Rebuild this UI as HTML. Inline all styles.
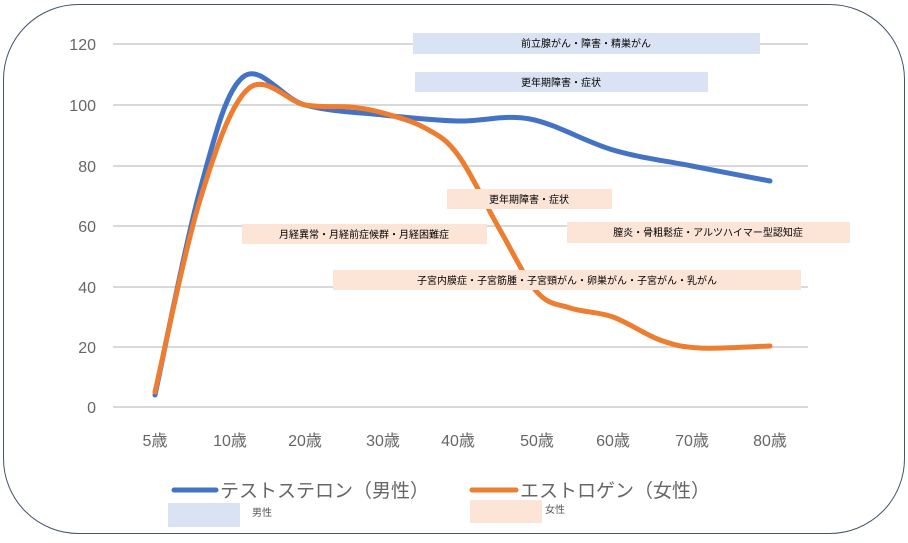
<!DOCTYPE html>
<html><head><meta charset="utf-8"><style>
body{margin:0;background:#fff;}
svg text{font-family:"Liberation Sans","Noto Sans CJK JP",sans-serif;}
</style></head><body>
<svg id="s" width="908" height="538" xmlns="http://www.w3.org/2000/svg">
<rect x="3.5" y="4.5" width="901" height="529" rx="75" ry="75" fill="#fff" stroke="#44546A" stroke-width="1"/>
<g stroke="#d9d9d9" stroke-width="2">
<line x1="113" y1="44" x2="808" y2="44"/><line x1="113" y1="105" x2="808" y2="105"/>
<line x1="113" y1="166" x2="808" y2="166"/><line x1="113" y1="226" x2="808" y2="226"/>
<line x1="113" y1="287" x2="808" y2="287"/><line x1="113" y1="347" x2="808" y2="347"/>
<line x1="113" y1="407" x2="808" y2="407"/>
</g>
<g fill="#666" font-size="16" text-anchor="end">
<text x="96" y="50">120</text><text x="96" y="111">100</text><text x="96" y="172">80</text>
<text x="96" y="232">60</text><text x="96" y="293">40</text><text x="96" y="353">20</text><text x="96" y="413">0</text>
</g>
<g fill="#666" font-size="16" text-anchor="middle">
<text x="155" y="446">5歳</text><text x="230" y="446">10歳</text><text x="305" y="446">20歳</text>
<text x="383" y="446">30歳</text><text x="458" y="446">40歳</text><text x="537" y="446">50歳</text>
<text x="613" y="446">60歳</text><text x="692" y="446">70歳</text><text x="770" y="446">80歳</text>
</g>
<path id="b" fill="none" stroke="#4472C4" stroke-width="5" stroke-linecap="round"/>
<path id="o" fill="none" stroke="#ED7D31" stroke-width="5" stroke-linecap="round"/>
<g font-size="10" fill="#000" text-anchor="middle">
<rect x="413" y="33" width="347" height="21" fill="#DAE3F3"/><text x="586" y="47">前立腺がん・障害・精巣がん</text>
<rect x="415" y="72" width="293" height="20" fill="#DAE3F3"/><text x="561" y="86">更年期障害・症状</text>
<rect x="447" y="189" width="165" height="20" fill="#FCE4D6"/><text x="529" y="203">更年期障害・症状</text>
<rect x="242" y="224" width="245" height="20" fill="#FCE4D6"/><text x="364" y="238">月経異常・月経前症候群・月経困難症</text>
<rect x="567" y="222" width="283" height="21" fill="#FCE4D6"/><text x="708" y="236">膣炎・骨粗鬆症・アルツハイマー型認知症</text>
<rect x="333" y="270" width="468" height="20" fill="#FCE4D6"/><text x="567" y="284">子宮内膜症・子宮筋腫・子宮頸がん・卵巣がん・子宮がん・乳がん</text>
</g>
<line x1="174" y1="490" x2="216" y2="490" stroke="#4472C4" stroke-width="5" stroke-linecap="round"/>
<text x="220" y="497" font-size="19" fill="#666">テストステロン（男性）</text>
<line x1="472" y1="490" x2="516" y2="490" stroke="#ED7D31" stroke-width="5" stroke-linecap="round"/>
<text x="520" y="497" font-size="19" fill="#666">エストロゲン（女性）</text>
<rect x="168" y="503" width="72" height="24" fill="#DAE3F3"/>
<text x="252" y="516" font-size="10" fill="#595959">男性</text>
<rect x="470" y="500" width="72" height="23" fill="#FCE4D6"/>
<text x="545" y="513" font-size="10" fill="#595959">女性</text>
</svg>
<script>
function cr(p){var d="M"+p[0][0]+","+p[0][1];
for(var i=0;i<p.length-1;i++){var p0=p[i-1]||p[i],p1=p[i],p2=p[i+1],p3=p[i+2]||p2;
d+=" C"+(p1[0]+(p2[0]-p0[0])/6)+","+(p1[1]+(p2[1]-p0[1])/6)+" "+(p2[0]-(p3[0]-p1[0])/6)+","+(p2[1]-(p3[1]-p1[1])/6)+" "+p2[0]+","+p2[1];}
return d;}
document.getElementById("b").setAttribute("d",cr([[155,395],[200,190],[243,77],[305,105],[383,115],[458,121],[530,119],[613,150],[692,166],[770,181]]));
document.getElementById("o").setAttribute("d",cr([[155,392],[200,200],[248,89],[305,105],[350,107],[383,113],[425,128],[458,155],[500,230],[537,292],[570,308],[613,317],[660,340],[700,348],[770,346]]));
</script>
</body></html>
